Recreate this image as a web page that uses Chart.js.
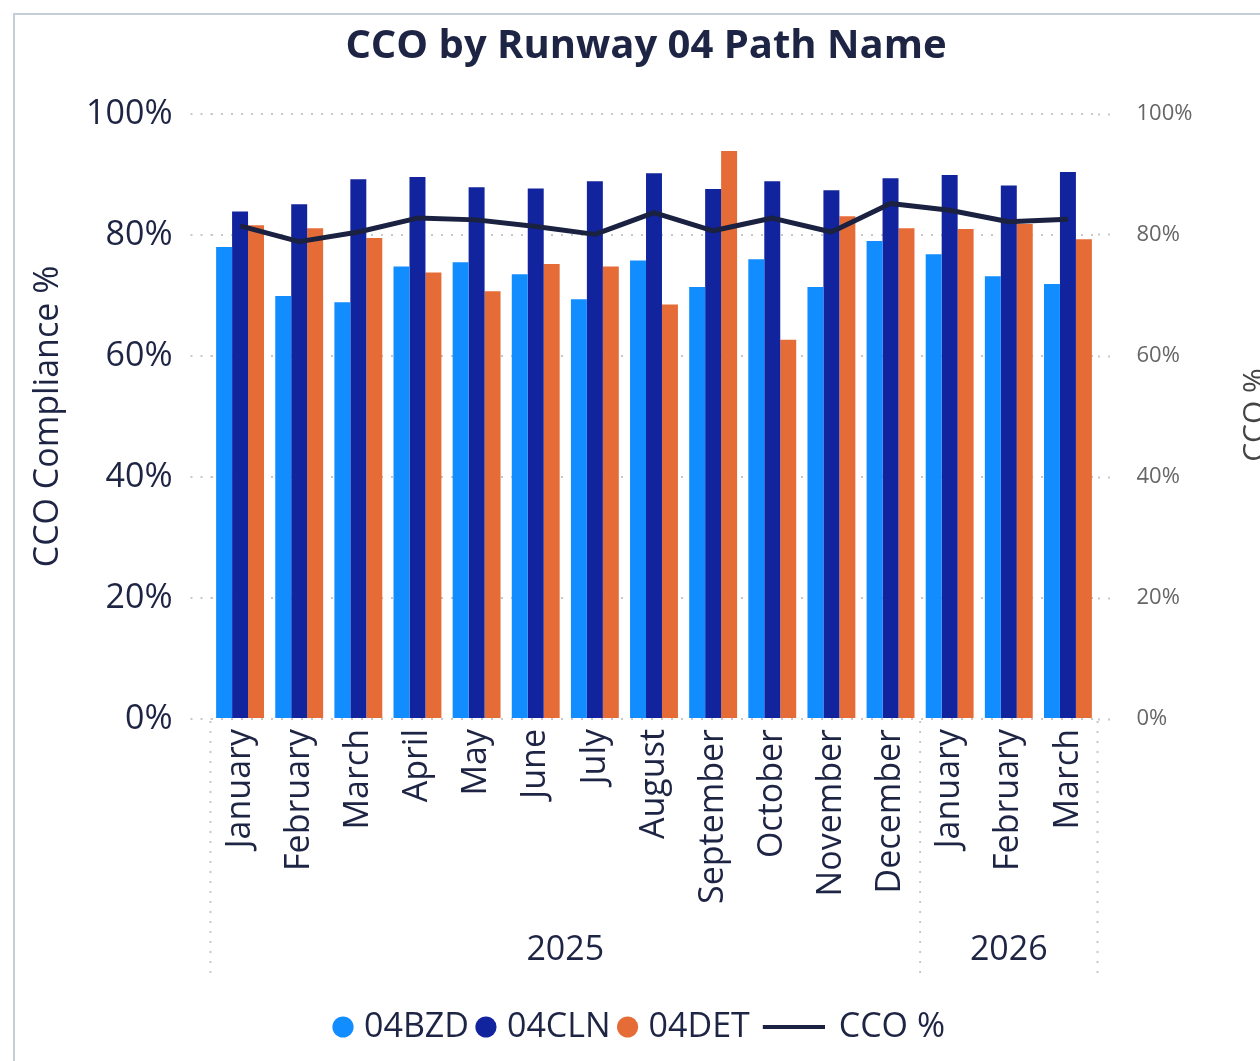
<!DOCTYPE html>
<html>
<head>
<meta charset="utf-8">
<title>CCO by Runway 04 Path Name</title>
<script src="https://cdn.jsdelivr.net/npm/chart.js"></script>
<style>
  html, body { margin: 0; padding: 0; background: #fff; overflow: hidden; }
  .frame { position: absolute; left: 13px; top: 13px; width: 1300px; height: 1100px;
           border-top: 2px solid #c6ced8; border-left: 2px solid #c6ced8; }
  .wrap { position: absolute; left: 0; top: 0; width: 1260px; height: 1061px; }
</style>
</head>
<body>
<div class="frame"></div>
<div class="wrap"><canvas id="ccoChart" width="1260" height="1061"></canvas></div>
<script>
const months = ['January', 'February', 'March', 'April', 'May', 'June', 'July', 'August',
  'September', 'October', 'November', 'December', 'January', 'February', 'March'];
const years = ['2025', '2026'];
const yearSpans = [12, 3];

const bzd = [78.0, 69.9, 68.9, 74.8, 75.5, 73.5, 69.4, 75.8, 71.4, 76.0, 71.4, 79.0, 76.8, 73.2, 71.9];
const cln = [83.9, 85.1, 89.2, 89.6, 87.9, 87.7, 88.9, 90.2, 87.6, 88.9, 87.4, 89.4, 89.9, 88.2, 90.4];
const det = [81.6, 81.1, 79.5, 73.8, 70.7, 75.2, 74.8, 68.5, 93.9, 62.7, 83.1, 81.1, 81.0, 81.8, 79.3];
const ccoPct = [81.5, 78.9, 80.5, 82.8, 82.5, 81.4, 80.1, 83.7, 80.7, 82.8, 80.5, 85.2, 84.1, 82.2, 82.6];

const yTicks = [0, 20, 40, 60, 80, 100];

const NAVY = '#1e2444';
const FONT = "'Open Sans', 'Noto Sans', sans-serif";
const DOT = [2, 8];
const GRID = '#c8c8c8';

// legend marker for the line series: long stroke, offset so it sits left of its text
function lineMarker() {
  const c = document.createElement('canvas');
  c.width = 116; c.height = 8;
  const g = c.getContext('2d');
  g.strokeStyle = '#1b2140';
  g.lineWidth = 4;
  g.beginPath();
  g.moveTo(54, 4);
  g.lineTo(116, 4);
  g.stroke();
  return c;
}

// title, year group labels, dotted separators and the cut-off right axis title
const groupAxis = {
  id: 'groupAxis',
  afterDraw(chart) {
    const { ctx, chartArea, scales } = chart;
    const x = scales.x;
    const half = (x.getPixelForValue(1) - x.getPixelForValue(0)) / 2;
    const edges = [chartArea.left];
    let idx = 0;
    yearSpans.forEach(n => { idx += n; edges.push(x.getPixelForValue(idx - 1) + half); });

    ctx.save();
    ctx.strokeStyle = GRID;
    ctx.lineWidth = 2;
    ctx.setLineDash(DOT);
    edges.forEach(px => {
      ctx.beginPath();
      ctx.moveTo(px, chartArea.bottom + 2);
      ctx.lineTo(px, 976);
      ctx.stroke();
    });
    ctx.setLineDash([]);

    ctx.fillStyle = NAVY;
    ctx.textAlign = 'center';
    ctx.textBaseline = 'middle';
    ctx.font = 'bold 40px ' + FONT;
    ctx.fillText('CCO by Runway 04 Path Name', 646, 47);

    ctx.font = '34px ' + FONT;
    years.forEach((y, i) => ctx.fillText(y, (edges[i] + edges[i + 1]) / 2, 950));

    ctx.translate(1240, 415);
    ctx.rotate(-Math.PI / 2);
    ctx.fillStyle = '#444';
    ctx.font = '30px ' + FONT;
    ctx.textBaseline = 'top';
    ctx.fillText('CCO %', 0, 0);
    ctx.restore();
  }
};

const marker = lineMarker();

new Chart(document.getElementById('ccoChart'), {
  type: 'bar',
  data: {
    labels: months,
    datasets: [
      { label: '04BZD', data: bzd, backgroundColor: '#118dff', order: 1 },
      { label: '04CLN', data: cln, backgroundColor: '#12239e', order: 1 },
      { label: '04DET', data: det, backgroundColor: '#e66c37', order: 1 },
      { type: 'line', label: 'CCO %', data: ccoPct, yAxisID: 'y1', order: 0,
        borderColor: '#1b2140', backgroundColor: '#1b2140', borderWidth: 5,
        pointRadius: 0, tension: 0, borderJoinStyle: 'round' }
    ]
  },
  options: {
    responsive: false,
    animation: false,
    categoryPercentage: 0.81,
    barPercentage: 1,
    layout: { padding: { left: 24, right: 0, top: 114, bottom: 7 } },
    plugins: {
      tooltip: { enabled: false },
      title: { display: false },
      legend: {
        position: 'bottom',
        labels: {
          usePointStyle: true,
          boxWidth: 8,
          boxHeight: 15,
          padding: 13,
          color: NAVY,
          font: { family: FONT, size: 34 },
          sort: (a, b) => a.datasetIndex - b.datasetIndex,
          generateLabels(chart) {
            const items = Chart.defaults.plugins.legend.labels.generateLabels(chart);
            items.forEach(it => {
              if (it.datasetIndex === 3) {
                it.pointStyle = marker;
                it.text = '\u2003\u2002' + it.text;
              } else {
                it.pointStyle = 'circle';
                it.lineWidth = 0;
              }
            });
            return items;
          }
        }
      }
    },
    scales: {
      x: {
        afterFit: s => { s.height = 278; },
        grid: { display: false, drawTicks: false },
        border: { display: false },
        ticks: {
          autoSkip: false, minRotation: 90, maxRotation: 90, padding: 10,
          color: NAVY, font: { family: FONT, size: 34 }
        }
      },
      y: {
        min: 0, max: 100,
        afterFit: s => { s.width = 186.5; },
        afterBuildTicks: s => { s.ticks = yTicks.map(v => ({ value: v })); },
        border: { display: false, dash: DOT },
        grid: { color: GRID, lineWidth: 2, tickLength: 20,
                tickBorderDash: DOT, tickColor: GRID, tickWidth: 2 },
        ticks: { padding: 18, color: NAVY, font: { family: FONT, size: 34 },
                 callback: v => v + '%' },
        title: { display: true, text: 'CCO Compliance %', color: NAVY,
                 font: { family: FONT, size: 34 }, padding: { top: 4, bottom: 0 } }
      },
      y1: {
        position: 'right',
        min: 0, max: 100,
        afterFit: s => { s.width = 162.5; },
        afterBuildTicks: s => { s.ticks = yTicks.map(v => ({ value: v })); },
        border: { display: false },
        grid: { drawOnChartArea: false, tickLength: 18, tickBorderDash: DOT,
                tickColor: GRID, tickWidth: 2 },
        ticks: { padding: 21, color: '#666', font: { family: FONT, size: 22 },
                 callback: v => v + '%' }
      }
    }
  },
  plugins: [groupAxis]
});
</script>
</body>
</html>
